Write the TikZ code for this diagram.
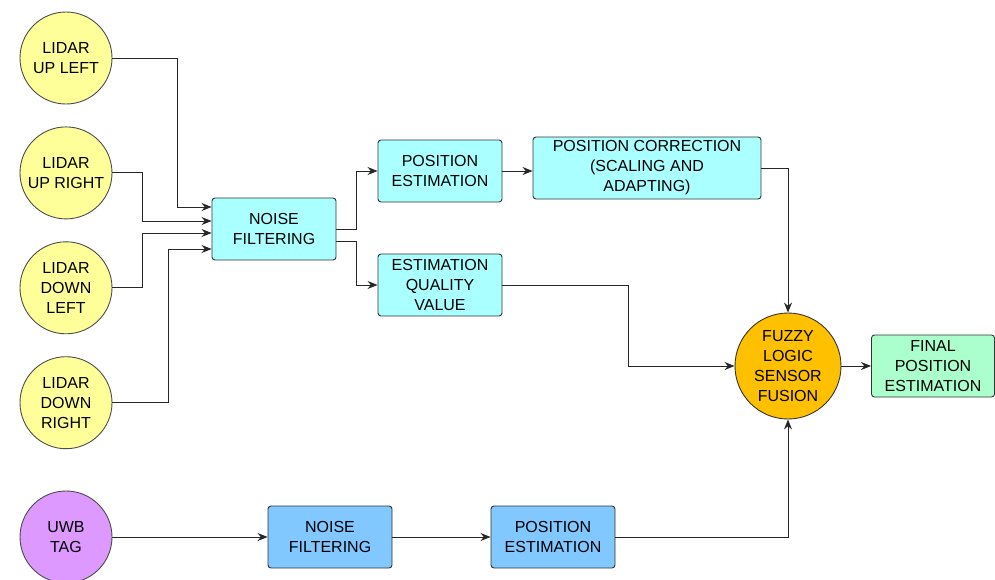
\documentclass[tikz,border=0pt]{standalone}
\usepackage{fontspec}
\setmainfont{Liberation Sans}
\usetikzlibrary{positioning, arrows.meta}
\definecolor{lidarcol}{HTML}{FFFF99}
\definecolor{blockcol}{HTML}{AAFFFF}
\definecolor{fusioncol}{HTML}{FFC000}
\definecolor{finalcol}{HTML}{AAFFCC}
\definecolor{uwbblockcol}{HTML}{80C8FF}
\definecolor{uwbcol}{HTML}{DD99FF}
\tikzset{>={Stealth[length=10pt,width=8pt]}, % arrow heads
node distance=22pt, % gap between the lidar circles
every node/.style={font=\fontsize{16}{20}\selectfont, align=center},
sensor/.style={circle, draw=black!70, line width=0.9pt, fill=lidarcol, minimum size=92pt, inner sep=0pt},
block/.style={rectangle, rounded corners=3pt, draw=black!80, line width=0.9pt, fill=blockcol, minimum width=124pt, minimum height=62pt, inner sep=2pt},
fusion/.style={circle, draw=black!80, line width=0.9pt, fill=fusioncol, minimum size=106pt, inner sep=0pt},
link/.style={->, draw=black!85, line width=0.9pt},
}
\begin{document}
\begin{tikzpicture}[x=1pt,y=-1pt]
\useasboundingbox (0,0) rectangle (995,579);
\node[sensor] (lul) at (66,58) {LIDAR\\UP LEFT};
\node[sensor, below=of lul] (lur) {LIDAR\\UP RIGHT};
\node[sensor, below=of lur] (ldl) {LIDAR\\DOWN\\LEFT};
\node[sensor, below=of ldl] (ldr) {LIDAR\\DOWN\\RIGHT};
\node[sensor, fill=uwbcol] (uwb) at (66,537) {UWB\\TAG};

\node[block] (nf) at (274,229) {NOISE\\FILTERING};
\node[block] (pe) at (440,171) {POSITION\\ESTIMATION};
\node[block] (eq) at (440,285) {ESTIMATION\\QUALITY\\VALUE};
\node[block, minimum width=228pt] (pc) at (647,168) {POSITION CORRECTION\\(SCALING AND\\ADAPTING)};
\node[fusion] (fz) at (788,366) {FUZZY\\LOGIC\\SENSOR\\FUSION};
\node[block, fill=finalcol, minimum width=123pt] (fp) at (933,366) {FINAL\\POSITION\\ESTIMATION};
\node[block, fill=uwbblockcol] (unf) at (330,537) {NOISE\\FILTERING};
\node[block, fill=uwbblockcol] (upe) at (553,537) {POSITION\\ESTIMATION};

% lidars into the noise filter
\draw[link] (lul.east) -| ([xshift=-34pt,yshift=22pt]nf.west) -- ([yshift=22pt]nf.west);
\draw[link] (lur.east) -| ([xshift=-69pt,yshift=8pt]nf.west) -- ([yshift=8pt]nf.west);
\draw[link] (ldl.east) -| ([xshift=-69pt,yshift=-4pt]nf.west) -- ([yshift=-4pt]nf.west);
\draw[link] (ldr.east) -| ([xshift=-43pt,yshift=-20pt]nf.west) -- ([yshift=-20pt]nf.west);

\draw[link] (nf.east) -| ([xshift=-21pt]pe.west) -- (pe.west);
\draw[link] ([yshift=-12pt]nf.east) -| ([xshift=-21pt]eq.west) -- (eq.west);
\draw[link] (pe.east) -- (pe.east -| pc.west);
\draw[link] (pc.east) -| (fz.north);
\draw[link] (eq.east) -| ([xshift=-106pt]fz.west) -- (fz.west);
\draw[link] (fz) -- (fp);

% uwb chain
\draw[link] (uwb) -- (unf);
\draw[link] (unf) -- (upe);
\draw[link] (upe.east) -| (fz.south);
\end{tikzpicture}
\end{document}
